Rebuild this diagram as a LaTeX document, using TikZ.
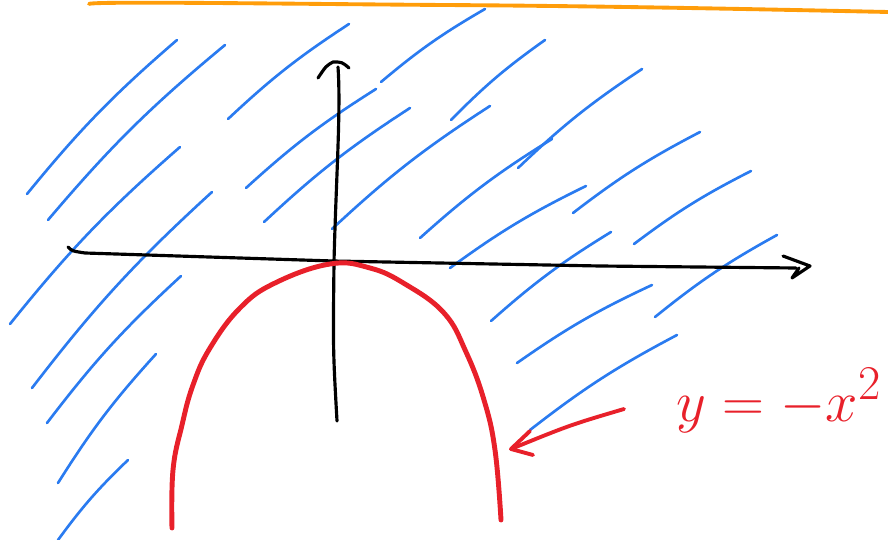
\documentclass[tikz,border=0pt]{standalone}
\usetikzlibrary{arrows.meta}
\definecolor{skblue}{HTML}{2A7BF0}
\definecolor{skred}{HTML}{E8202A}
\definecolor{skorange}{HTML}{FF9D0A}

\tikzset{
  hatch/.style={draw=skblue, line width=1.5pt, line cap=round},
  axisline/.style={draw=black, line width=1.8pt, line cap=round, line join=round},
  curve/.style={draw=skred, line width=2.8pt, line cap=round},
  pointer/.style={draw=skred, line width=2.2pt, line cap=round, line join=round}
}

\begin{document}
\begin{tikzpicture}[x=0.02cm, y=-0.02cm]
      \useasboundingbox (0,0) rectangle (888,540);

      % top edge
      \draw[draw=skorange, line width=2.2pt, line cap=round] (89,4) .. controls (90,1) and (300,4) .. (444,5) .. controls (600,6) and (750,9) .. (888,12);

      % shading above the curve
      \foreach \a/\b/\c/\d in {27/194/177/40, 48/220/225/45, 10/324/180/147, 32/388/212/192,
          228/119/349/24, 381/82/485/9, 246/188/376/89, 264/222/410/108, 332/229/490/106,
          451/120/545/40, 420/238/552/139, 518/168/642/69, 573/213/700/132, 450/268/586/186,
          634/244/751/171, 491/321/611/232, 655/317/777/235, 517/363/652/285, 530/430/677/335,
          47/423/181/276, 58/483/156/354, 58/540/128/460}
        \draw[hatch] (\a,\b) to[bend left=5] (\c,\d);

      % axes
      \draw[axisline] (68,247) .. controls (72,251) .. (85,253) -- (333,261) -- (600,266) -- (796,268);
      \draw[axisline] (783,256) -- (810,266) -- (792,278) -- (799,268);
      \draw[axisline] (337,421) .. controls (333,350) .. (334,262) .. controls (336,180) and (341,110) .. (338,67);
      \draw[axisline] (318,78) .. controls (326,66) .. (333,62) .. controls (342,62) .. (349,68);

      % parabola
      \draw[curve] plot[smooth, tension=0.7] coordinates {(172,528) (173,470) (182,425) (193,385)
          (210,348) (240,308) (275,283) (330,264) (370,268) (405,284) (444,313)
          (466,352) (484,400) (495,450) (501,520)};

      % label
      \node[text=skred, font=\Huge, scale=1.33, transform shape, anchor=base west, inner sep=0pt] (eq) at (676,421) {$y=-x^{2}$};
      \coordinate (tail) at (624,409);
      \coordinate (tip) at (511,449);
      \draw[pointer] (tail) .. controls (570,425) .. (tip);
      \draw[pointer] (530,431) -- (tip) -- (533,455);
\end{tikzpicture}
\end{document}
